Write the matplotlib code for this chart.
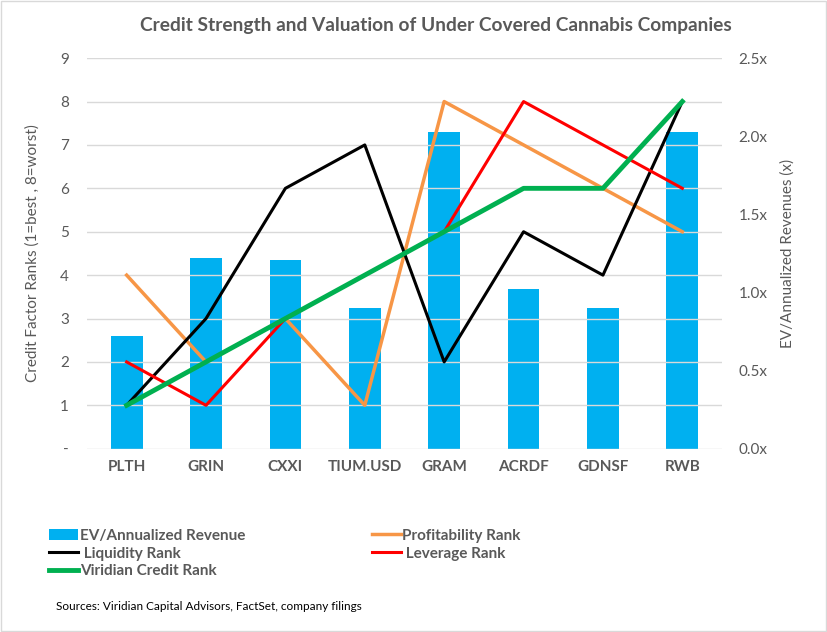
import numpy as np
import matplotlib.pyplot as plt
from matplotlib.patches import Rectangle

plt.rcParams['font.family'] = ['Lato', 'DejaVu Sans']

# 数据
companies = ["PLTH", "GRIN", "CXXI", "TIUM.USD", "GRAM", "ACRDF", "GDNSF", "RWB"]
ev_revenue = [0.72, 1.22, 1.21, 0.90, 2.03, 1.02, 0.90, 2.03]
profitability_rank = [4, 2, 3, 1, 8, 7, 6, 5]
liquidity_rank = [1, 3, 6, 7, 2, 5, 4, 8]
leverage_rank = [2, 1, 3, 4, 5, 8, 7, 6]
viridian_rank = [1, 2, 3, 4, 5, 6, 6, 8]

gray = '#595959'

fig = plt.figure(figsize=(8.28, 6.32), dpi=100)
ax = fig.add_axes([0.105, 0.290, 0.767, 0.618])
ax2 = ax.twinx()

x = np.arange(len(companies))

# 柱状图 (右轴)
bars = ax2.bar(x, ev_revenue, width=0.4, color='#00B0F0', label="EV/Annualized Revenue", zorder=1)
ax2.set_ylim(0, 2.5)
ax2.set_yticks(np.arange(0, 2.51, 0.5))
ax2.set_yticklabels([f"{v:.1f}x" for v in np.arange(0, 2.51, 0.5)])

# 折线 (左轴)
ax.set_zorder(ax2.get_zorder() + 1)
ax.patch.set_visible(False)
l_prof, = ax.plot(x, profitability_rank, color='#F79646', linewidth=2.5, label="Profitability Rank")
l_liq, = ax.plot(x, liquidity_rank, color='black', linewidth=2.2, label=" Liquidity Rank")
l_lev, = ax.plot(x, leverage_rank, color='#FF0000', linewidth=2.2, label=" Leverage Rank")
l_vir, = ax.plot(x, viridian_rank, color='#00B050', linewidth=3.5, label="Viridian Credit Rank")

ax.set_ylim(0, 9)
ax.set_yticks(range(0, 10))
ax.set_yticklabels(["-"] + [str(i) for i in range(1, 10)])
ax.set_xlim(-0.5, len(companies) - 0.5)
ax.set_xticks(x)
ax.set_xticklabels(companies, fontweight='bold')

for v in range(0, 10):
    ax.axhline(v, color='#D9D9D9', linewidth=1, zorder=0)

for a in (ax, ax2):
    for s in a.spines.values():
        s.set_visible(False)
    a.tick_params(length=0, colors=gray, labelsize=11)
ax.tick_params(axis='y', pad=13)
ax.tick_params(axis='x', pad=8)
ax2.tick_params(axis='y', pad=12)

ax.set_ylabel("Credit Factor Ranks (1=best , 8=worst)", color=gray, fontsize=11)
ax.yaxis.set_label_coords(-0.075, 0.5)
ax2.set_ylabel("EV/Annualized Revenues (x)", color=gray, fontsize=11, rotation=90)
ax2.yaxis.set_label_coords(1.092, 0.5)

fig.text(0.527, 0.960, "Credit Strength and Valuation of Under Covered Cannabis Companies",
         ha='center', va='center', fontsize=13.8, fontweight='bold', color=gray)

handles = [bars, l_liq, l_vir, l_prof, l_lev]
labels = [h.get_label() for h in handles]
leg = fig.legend(handles, labels, loc='upper left', bbox_to_anchor=(0.052, 0.173), ncol=2, frameon=False,
                 prop={'size': 11, 'weight': 'bold'}, labelcolor=gray, handlelength=1.9,
                 handletextpad=0.1, columnspacing=8.3, labelspacing=0.25, borderaxespad=0)

fig.text(0.068, 0.040, "Sources: Viridian Capital Advisors, FactSet, company filings",
         fontsize=8.5, color='black', va='center')

fig.patches.append(Rectangle((0.001, 0.001), 0.997, 0.997, transform=fig.transFigure,
                             fill=False, edgecolor='#D9D9D9', linewidth=1))

fig.savefig("out.png", dpi=100)
